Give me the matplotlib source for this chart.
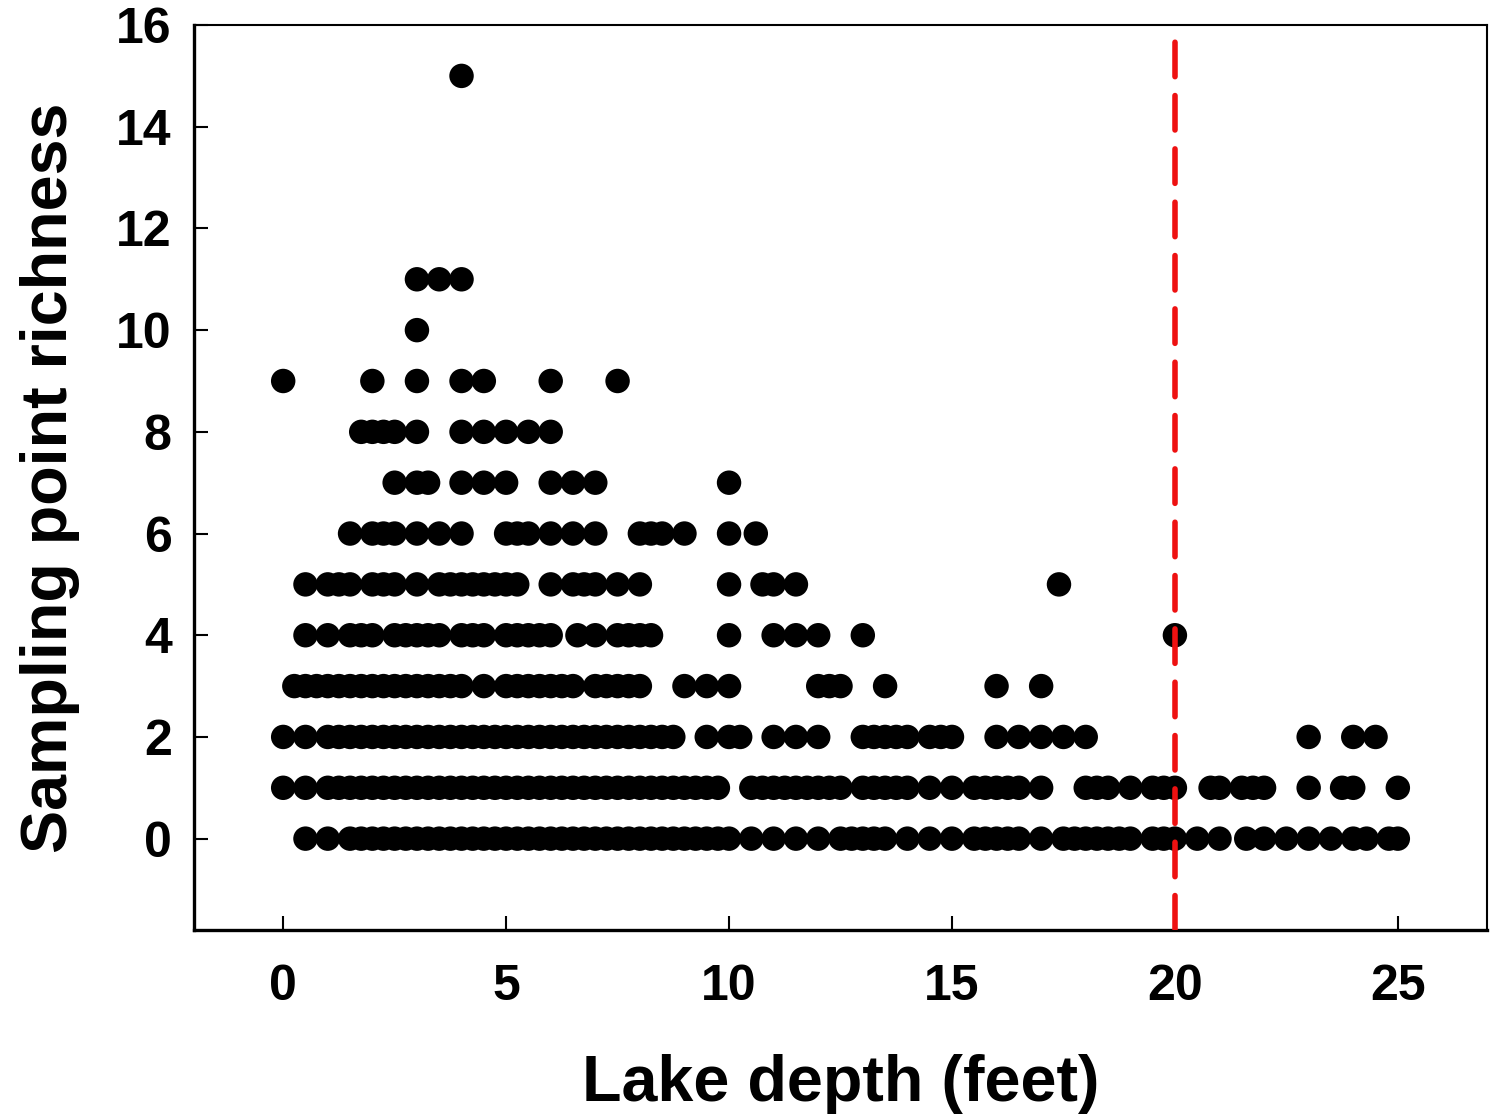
import matplotlib
matplotlib.use("Agg")
import matplotlib.pyplot as plt
import numpy as np

plt.rcParams['font.family'] = ['Liberation Sans', 'DejaVu Sans']

# Depth values (feet) for each richness level
depth_r0 = [0.5, 1.0, 1.5, 1.75, 2.0, 2.25, 2.5, 2.75, 3.0, 3.25, 3.5, 3.75, 4.0, 4.25, 4.5, 4.75,
            5.0, 5.25, 5.5, 5.75, 6.0, 6.25, 6.5, 6.75, 7.0, 7.25, 7.5, 7.75, 8.0, 8.25, 8.5, 8.75,
            9.0, 9.25, 9.5, 9.75, 10.0, 10.5, 11.0, 11.5, 12.0, 12.5, 12.75, 13.0, 13.25, 13.5, 14.0,
            14.5, 15.0, 15.5, 15.75, 16.0, 16.25, 16.5, 17.0, 17.5, 17.75, 18.0, 18.25, 18.5, 18.75,
            19.0, 19.5, 19.75, 20.0, 20.5, 21.0, 21.6, 22.0, 22.5, 23.0, 23.5, 24.0, 24.3, 24.8, 25.0]
depth_r1 = [0.0, 0.5, 1.0, 1.25, 1.5, 1.75, 2.0, 2.25, 2.5, 2.75, 3.0, 3.25, 3.5, 3.75, 4.0, 4.25,
            4.5, 4.75, 5.0, 5.25, 5.5, 5.75, 6.0, 6.25, 6.5, 6.75, 7.0, 7.25, 7.5, 7.75, 8.0, 8.25,
            8.5, 8.75, 9.0, 9.25, 9.5, 9.75, 10.5, 10.75, 11.0, 11.25, 11.5, 11.75, 12.0, 12.25, 12.5,
            13.0, 13.25, 13.5, 13.75, 14.0, 14.5, 15.0, 15.5, 15.75, 16.0, 16.25, 16.5, 17.0, 18.0,
            18.25, 18.5, 19.0, 19.5, 19.75, 20.0, 20.8, 21.0, 21.5, 21.75, 22.0, 23.0, 23.75, 24.0, 25.0]
depth_r2 = [0.0, 0.5, 1.0, 1.25, 1.5, 1.75, 2.0, 2.25, 2.5, 2.75, 3.0, 3.25, 3.5, 3.75, 4.0, 4.25,
            4.5, 4.75, 5.0, 5.25, 5.5, 5.75, 6.0, 6.25, 6.5, 6.75, 7.0, 7.25, 7.5, 7.75, 8.0, 8.25,
            8.5, 8.75, 9.5, 10.0, 10.25, 11.0, 11.5, 12.0, 13.0, 13.25, 13.5, 13.75, 14.0, 14.5, 14.75,
            15.0, 16.0, 16.5, 17.0, 17.5, 18.0, 23.0, 24.0, 24.5]
depth_r3 = [0.25, 0.5, 0.75, 1.0, 1.25, 1.5, 1.75, 2.0, 2.25, 2.5, 2.75, 3.0, 3.25, 3.5, 3.75, 4.0,
            4.5, 5.0, 5.25, 5.5, 5.75, 6.0, 6.25, 6.5, 7.0, 7.25, 7.5, 7.75, 8.0, 9.0, 9.5, 10.0,
            12.0, 12.25, 12.5, 13.5, 16.0, 17.0]
depth_r4 = [0.5, 1.0, 1.5, 1.75, 2.0, 2.5, 2.75, 3.0, 3.25, 3.5, 4.0, 4.25, 4.5, 5.0, 5.25, 5.5,
            5.75, 6.0, 6.6, 7.0, 7.5, 7.75, 8.0, 8.25, 10.0, 11.0, 11.5, 12.0, 13.0, 20.0]
depth_r5 = [0.5, 1.0, 1.25, 1.5, 2.0, 2.25, 2.5, 3.0, 3.5, 3.75, 4.0, 4.25, 4.5, 4.75, 5.0, 5.25,
            6.0, 6.5, 6.75, 7.0, 7.5, 8.0, 10.0, 10.75, 11.0, 11.5, 17.4]
depth_r6 = [1.5, 2.0, 2.25, 2.5, 3.0, 3.5, 4.0, 5.0, 5.25, 5.5, 6.0, 6.5, 7.0, 8.0, 8.25, 8.5, 9.0,
            10.0, 10.6]
depth_r7 = [2.5, 3.0, 3.25, 4.0, 4.5, 5.0, 6.0, 6.5, 7.0, 10.0]
depth_r8 = [1.75, 2.0, 2.25, 2.5, 3.0, 4.0, 4.5, 5.0, 5.5, 6.0]
depth_r9 = [0.0, 2.0, 3.0, 4.0, 4.5, 6.0, 7.5]
depth_r10 = [3.0]
depth_r11 = [3.0, 3.5, 4.0]
depth_r15 = [4.0]

richness_levels = [0, 1, 2, 3, 4, 5, 6, 7, 8, 9, 10, 11, 15]
depth_rows = [depth_r0, depth_r1, depth_r2, depth_r3, depth_r4, depth_r5, depth_r6,
              depth_r7, depth_r8, depth_r9, depth_r10, depth_r11, depth_r15]

threshold_depth = 20
threshold_top = 15.7

x_ticks = [0, 5, 10, 15, 20, 25]
y_ticks = [0, 2, 4, 6, 8, 10, 12, 14, 16]

xs = np.concatenate([np.array(r, dtype=float) for r in depth_rows])
ys = np.concatenate([np.full(len(r), lvl, dtype=float) for r, lvl in zip(depth_rows, richness_levels)])

fig = plt.figure(figsize=(15.04, 11.18), dpi=100)
ax = fig.add_axes([0.129, 0.168, 0.8597, 0.8096])

ax.scatter(xs, ys, s=310, c='black', edgecolors='none', zorder=3)

ax.plot([threshold_depth, threshold_depth], [-1.8, threshold_top], color='#ee1111',
        lw=4.0, dashes=(6.2, 3.4), dash_capstyle='round', zorder=4)

ax.set_xlim(-2, 27)
ax.set_ylim(-1.8, 16)
ax.set_xticks(x_ticks)
ax.set_yticks(y_ticks)
ax.tick_params(direction='in', length=10, width=1.5, labelsize=36, top=False, right=False)
ax.tick_params(axis='x', pad=24)
ax.tick_params(axis='y', pad=16)
for lab in ax.get_xticklabels() + ax.get_yticklabels():
    lab.set_fontweight('bold')

for side in ['left', 'bottom']:
    ax.spines[side].set_linewidth(2.4)
for side in ['top', 'right']:
    ax.spines[side].set_linewidth(1.5)

ax.set_xlabel('Lake depth (feet)', fontsize=46.5, fontweight='bold', labelpad=32)
ax.set_ylabel('Sampling point richness', fontsize=46.5, fontweight='bold', labelpad=26)

fig.savefig('out.png', dpi=100)
